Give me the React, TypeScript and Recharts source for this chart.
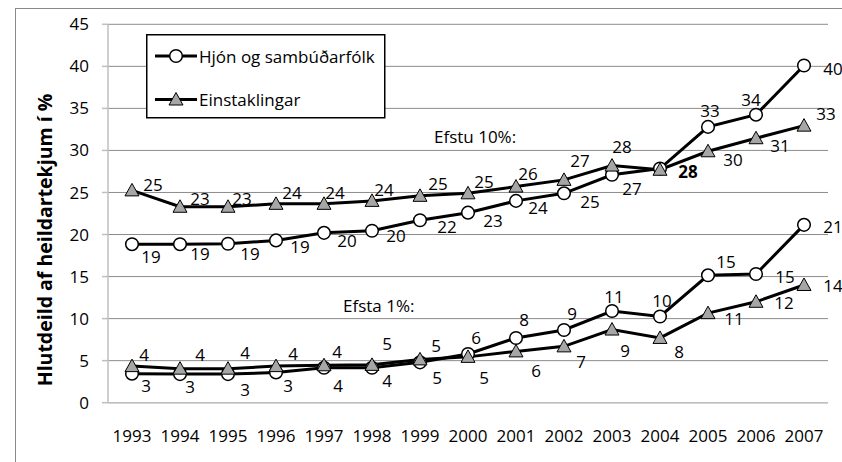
import React from 'react';
import { LineChart, Line, XAxis, YAxis, CartesianGrid, LabelList } from 'recharts';

const FONT = "'Open Sans', Lato, sans-serif";
const FS = 17;

// Categories
const years = [1993, 1994, 1995, 1996, 1997, 1998, 1999, 2000, 2001, 2002, 2003, 2004, 2005, 2006, 2007];
const yearBoundaries = [1992.5, 1993.5, 1994.5, 1995.5, 1996.5, 1997.5, 1998.5, 1999.5, 2000.5, 2001.5, 2002.5, 2003.5, 2004.5, 2005.5, 2006.5, 2007.5];
const yTicks = [0, 5, 10, 15, 20, 25, 30, 35, 40, 45];

// Series values (share of total income, %)
const hjon10 = [18.85, 18.85, 18.9, 19.3, 20.2, 20.45, 21.7, 22.6, 24.0, 24.9, 27.1, 27.85, 32.8, 34.25, 40.1];
const einst10 = [25.25, 23.3, 23.3, 23.65, 23.65, 24.0, 24.6, 24.9, 25.7, 26.5, 28.2, 27.7, 29.9, 31.45, 32.95];
const hjon1 = [3.45, 3.4, 3.4, 3.6, 4.15, 4.15, 4.8, 5.8, 7.7, 8.65, 10.9, 10.25, 15.15, 15.3, 21.15];
const einst1 = [4.35, 4.05, 4.05, 4.35, 4.45, 4.5, 5.15, 5.45, 6.1, 6.7, 8.7, 7.7, 10.65, 12.0, 14.0];

// Data label texts as printed
const hjon10Labels = ['19', '19', '19', '19', '20', '20', '22', '23', '24', '25', '27', '', '33', '34', '40'];
const einst10Labels = ['25', '23', '23', '24', '24', '24', '25', '25', '26', '27', '28', '28', '30', '31', '33'];
const hjon1Labels = ['3', '3', '3', '3', '4', '4', '5', '6', '8', '9', '11', '10', '15', '15', '21'];
const einst1Labels = ['4', '4', '4', '4', '4', '5', '5', '5', '6', '7', '9', '8', '11', '12', '14'];

// Label placement relative to each point (dx, dy) in px
const hjon10Off = [[19, 12], [20, 9], [22, 10], [24, 6], [23, 8], [24, 5], [27, 6], [25, 8], [22, 7], [26, 8], [20, 14], [0, 0], [2, -16], [-5, -15], [29, 3]];
const einst10Off = [[21, -6], [20, -8], [14, -8], [16, -11], [11, -11], [12, -11], [18, -12], [16, -12], [12, -13], [16, -19], [10, -19], [28, 2], [25, 8], [24, 7], [22, -12]];
const hjon1Off = [[14, 12], [10, 12], [17, 15], [12, 13], [14, 18], [15, 13], [17, 15], [8, -16], [8, -18], [8, -16], [2, -15], [2, -16], [18, -14], [29, 2], [29, 2]];
const einst1Off = [[12, -12], [20, -14], [17, -16], [17, -13], [13, -14], [15, -21], [16, -14], [16, 21], [20, 19], [17, 15], [13, 21], [19, 14], [26, 5], [28, 1], [29, 1]];

const rows = years.map((year, i) => ({
  year,
  h10: hjon10[i],
  e10: einst10[i],
  h1: hjon1[i],
  e1: einst1[i],
}));

const CircleDot = (p: any) => {
  if (p.cx == null || p.cy == null) return null;
  return <circle key={`c${p.index}`} cx={p.cx} cy={p.cy} r={6.3} fill="#ffffff" stroke="#000000" strokeWidth={1.5} />;
};

const TriangleDot = (p: any) => {
  if (p.cx == null || p.cy == null) return null;
  const { cx, cy } = p;
  return (
    <path
      key={`t${p.index}`}
      d={`M${cx},${cy - 7} L${cx + 7},${cy + 5.5} L${cx - 7},${cy + 5.5} Z`}
      fill="#a6a6a6"
      stroke="#000000"
      strokeWidth={1}
    />
  );
};

const makeLabel = (texts: string[], offs: number[][], boldIdx: number = -1) => (props: any) => {
  const { x, y, index } = props;
  const t = texts[index];
  if (!t || x == null || y == null) return null;
  const [dx, dy] = offs[index];
  return (
    <text
      key={`l${index}`}
      x={x + dx}
      y={y + dy}
      textAnchor="middle"
      dominantBaseline="central"
      fontFamily={FONT}
      fontSize={FS}
      fontWeight={index === boldIdx ? 700 : 400}
      fill="#000"
    >
      {t}
    </text>
  );
};

const LegendBox = () => (
  <svg width={240} height={85} style={{ display: 'block' }}>
    <rect x={0.75} y={0.75} width={238} height={83} fill="#ffffff" stroke="#000000" strokeWidth={1.5} />
    <line x1={9} x2={51} y1={22} y2={22} stroke="#000" strokeWidth={3} />
    <circle cx={30} cy={22} r={6.3} fill="#fff" stroke="#000" strokeWidth={1.5} />
    <text x={53} y={22} dominantBaseline="central" fontFamily={FONT} fontSize={FS} fill="#000">Hjón og sambúðarfólk</text>
    <line x1={9} x2={51} y1={65.5} y2={65.5} stroke="#000" strokeWidth={3} />
    <path d={`M30,${65.5 - 7} L37,${65.5 + 5.5} L23,${65.5 + 5.5} Z`} fill="#a6a6a6" stroke="#000" strokeWidth={1} />
    <text x={53} y={65.5} dominantBaseline="central" fontFamily={FONT} fontSize={FS} fill="#000">Einstaklingar</text>
  </svg>
);

export default function App() {
  return (
    <div style={{ position: 'absolute', left: 0, top: 0, width: 842, height: 462, overflow: 'hidden', background: '#fff' }}>
      <div style={{ position: 'absolute', left: 15, top: 8, width: 900, height: 600, borderLeft: '1px solid #8a8a8a', borderTop: '1px solid #8a8a8a' }} />
      <div style={{ position: 'absolute', left: 0, top: 0 }}>
        <LineChart
          width={842}
          height={462}
          data={rows}
          margin={{ top: 24.3, right: 14, bottom: 23.3, left: 0 }}
        >
          <CartesianGrid vertical={false} stroke="#8c8c8c" strokeWidth={1} xAxisId="years" yAxisId="v" />
          <XAxis
            xAxisId="bounds"
            dataKey="year"
            type="number"
            domain={[1992.5, 2007.5]}
            ticks={yearBoundaries}
            tick={false}
            tickSize={6}
            tickLine={{ stroke: '#bfbfbf', strokeWidth: 1.5 }}
            axisLine={{ stroke: '#bfbfbf', strokeWidth: 1.5 }}
            height={6}
            allowDataOverflow
          />
          <XAxis
            xAxisId="years"
            dataKey="year"
            type="number"
            domain={[1992.5, 2007.5]}
            ticks={years}
            interval={0}
            tickLine={false}
            axisLine={false}
            tickSize={0}
            tickMargin={21}
            height={30}
            tick={{ fill: '#000', fontSize: FS, fontFamily: FONT }}
            allowDataOverflow
          />
          <YAxis
            yAxisId="v"
            type="number"
            domain={[0, 45]}
            ticks={yTicks}
            interval={0}
            width={108}
            tickSize={6}
            tickMargin={13}
            tickLine={{ stroke: '#bfbfbf', strokeWidth: 1.5 }}
            axisLine={{ stroke: '#bfbfbf', strokeWidth: 1.5 }}
            tick={{ fill: '#000', fontSize: FS, fontFamily: FONT }}
          />
          <Line xAxisId="years" yAxisId="v" dataKey="h10" stroke="#000" strokeWidth={3} dot={CircleDot} activeDot={false} isAnimationActive={false}>
            <LabelList dataKey="h10" content={makeLabel(hjon10Labels, hjon10Off)} />
          </Line>
          <Line xAxisId="years" yAxisId="v" dataKey="e10" stroke="#000" strokeWidth={3} dot={TriangleDot} activeDot={false} isAnimationActive={false}>
            <LabelList dataKey="e10" content={makeLabel(einst10Labels, einst10Off, 11)} />
          </Line>
          <Line xAxisId="years" yAxisId="v" dataKey="h1" stroke="#000" strokeWidth={3} dot={CircleDot} activeDot={false} isAnimationActive={false}>
            <LabelList dataKey="h1" content={makeLabel(hjon1Labels, hjon1Off)} />
          </Line>
          <Line xAxisId="years" yAxisId="v" dataKey="e1" stroke="#000" strokeWidth={3} dot={TriangleDot} activeDot={false} isAnimationActive={false}>
            <LabelList dataKey="e1" content={makeLabel(einst1Labels, einst1Off)} />
          </Line>
        </LineChart>
      </div>
      <div style={{ position: 'absolute', left: 145.5, top: 33.5 }}>
        <LegendBox />
      </div>
      <div
        style={{
          position: 'absolute',
          left: 44,
          top: 240,
          transform: 'translate(-50%, -50%) rotate(-90deg)',
          whiteSpace: 'nowrap',
          fontFamily: FONT,
          fontSize: 19.5,
          fontWeight: 700,
          color: '#000',
        }}
      >
        Hlutdeild af heildartekjum í %
      </div>
      <div style={{ position: 'absolute', left: 434, top: 136, transform: 'translateY(-50%)', fontFamily: FONT, fontSize: FS, color: '#000', whiteSpace: 'nowrap' }}>
        Efstu 10%:
      </div>
      <div style={{ position: 'absolute', left: 343, top: 305, transform: 'translateY(-50%)', fontFamily: FONT, fontSize: FS, color: '#000', whiteSpace: 'nowrap' }}>
        Efsta 1%:
      </div>
    </div>
  );
}
